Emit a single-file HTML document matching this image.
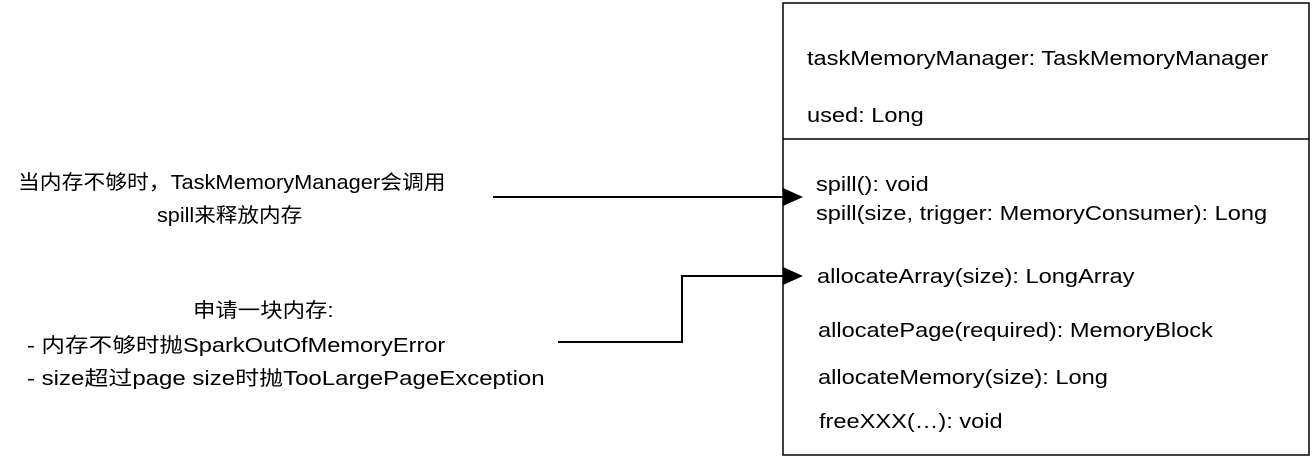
<!DOCTYPE html>
<html><head><meta charset="utf-8"><style>
body{margin:0;width:1312px;height:457px;background:#fff;position:relative;overflow:hidden;font-family:"Liberation Sans","Noto Sans CJK SC",sans-serif;font-size:20px;color:#000}
.t{position:absolute;white-space:nowrap;line-height:22px;transform-origin:0 50%;transform:scaleX(1.18)}
</style></head><body>
<svg width="1312" height="457" style="position:absolute;left:0;top:0">
<rect x="783" y="3" width="526" height="452" fill="none" stroke="#000" stroke-width="1.5"/>
<line x1="783" y1="139" x2="1309" y2="139" stroke="#000" stroke-width="1.5"/>
<line x1="493" y1="197" x2="785" y2="197" stroke="#000" stroke-width="2"/>
<polygon points="783,188 803,197 783,206" fill="#000"/>
<polyline points="558,342 682,342 682,276 785,276" fill="none" stroke="#000" stroke-width="2"/>
<polygon points="783,267 803,276 783,285" fill="#000"/>
</svg>
<div class="t" style="left:807px;top:48px">taskMemoryManager: TaskMemoryManager</div>
<div class="t" style="left:807px;top:105px">used: Long</div>
<div class="t" style="left:816px;top:174px">spill(): void</div>
<div class="t" style="left:816px;top:203px">spill(size, trigger: MemoryConsumer): Long</div>
<div class="t" style="left:817px;top:266px">allocateArray(size): LongArray</div>
<div class="t" style="left:818px;top:320px">allocatePage(required): MemoryBlock</div>
<div class="t" style="left:818px;top:367px">allocateMemory(size): Long</div>
<div class="t" style="left:819px;top:411px">freeXXX(…): void</div>
<div class="t" style="left:18px;top:172px;transform:scaleX(1.09)">当内存不够时，TaskMemoryManager会调用</div>
<div class="t" style="left:157px;top:205px;transform:scaleX(1.08)">spill来释放内存</div>
<div class="t" style="left:193px;top:300px;transform:scaleX(1.12)">申请一块内存:</div>
<div class="t" style="left:27px;top:335px;transform:scaleX(1.18)">- 内存不够时抛SparkOutOfMemoryError</div>
<div class="t" style="left:27px;top:368px;transform:scaleX(1.2)">- size超过page size时抛TooLargePageException</div>
</body></html>
